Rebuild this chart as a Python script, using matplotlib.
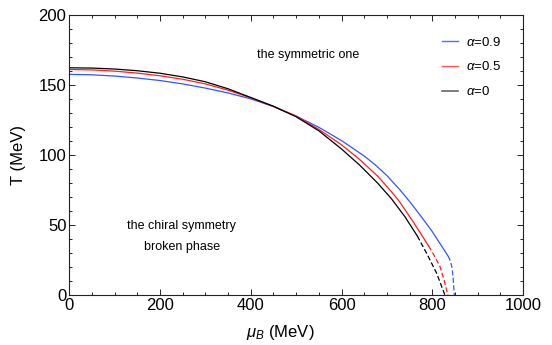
import matplotlib
matplotlib.use('Agg')
import matplotlib.pyplot as plt
from matplotlib.lines import Line2D
from matplotlib.ticker import MultipleLocator

plt.rcParams['font.family'] = ['Liberation Sans', 'DejaVu Sans']
plt.rcParams['mathtext.fontset'] = 'custom'
plt.rcParams['mathtext.rm'] = 'Liberation Sans'
plt.rcParams['mathtext.it'] = 'Liberation Sans:italic'

# ── Data ──────────────────────────────────────────────────────────────────
# alpha = 0.9 (blue)
mu_a09 = [0, 50, 100, 150, 200, 250, 300, 350, 400, 450, 500, 550, 600,
          650, 675, 700, 727, 750, 775, 800, 820, 835]
T_a09  = [157.8, 157.5, 156.6, 155.2, 153.4, 151, 148, 144.5, 140.3, 134.8,
          128, 120, 110.5, 99.5, 93, 85.5, 76, 67, 56.5, 45.5, 35.5, 28]
mu_a09_d = [835, 840, 844, 846, 848.6]
T_a09_d  = [28, 24.5, 19, 12, 0]

# alpha = 0.5 (red)
mu_a05 = [0, 50, 100, 150, 200, 250, 300, 350, 400, 450, 500, 550, 600,
          640, 680, 710, 728, 760, 792]
T_a05  = [161.3, 161, 160.1, 158.7, 156.8, 154.3, 151, 146.5, 141, 135,
          128, 118.5, 107.5, 97, 85, 74, 66.8, 51.5, 35.2]
mu_a05_d = [792, 805, 817, 826, 834.6]
T_a05_d  = [35.2, 28, 20.5, 11, 0]

# alpha = 0 (black)
mu_a0 = [0, 50, 100, 150, 200, 250, 300, 350, 400, 450, 500, 550, 600,
         640, 680, 710, 740, 767]
T_a0  = [162.5, 162.3, 161.6, 160.4, 158.6, 156, 152.5, 147.5, 141.3, 135,
         127.5, 117.5, 104.5, 93, 80, 69, 56, 42.4]
mu_a0_d = [767, 790, 810, 828]
T_a0_d  = [42.4, 28.5, 15.5, 0]

BLUE = '#2f57ff'
RED = '#ff1f1f'
BLACK = '#000000'

# ── Plot ──────────────────────────────────────────────────────────────────
fig = plt.figure(figsize=(5.52, 3.45), dpi=100)
ax = fig.add_axes([0.1255, 0.144, 0.822, 0.8117])

lw = 0.9
dash = (0, (4, 2))
ax.plot(mu_a09, T_a09, color=BLUE, lw=lw)
ax.plot(mu_a09_d, T_a09_d, color=BLUE, lw=lw, ls=dash)
ax.plot(mu_a05, T_a05, color=RED, lw=lw)
ax.plot(mu_a05_d, T_a05_d, color=RED, lw=lw, ls=dash)
ax.plot(mu_a0, T_a0, color=BLACK, lw=lw)
ax.plot(mu_a0_d, T_a0_d, color=BLACK, lw=lw, ls=dash)

ax.set_xlim(0, 1000)
ax.set_ylim(0, 200)
ax.xaxis.set_major_locator(MultipleLocator(200))
ax.xaxis.set_minor_locator(MultipleLocator(50))
ax.yaxis.set_major_locator(MultipleLocator(50))
ax.yaxis.set_minor_locator(MultipleLocator(10))
ax.tick_params(which='both', direction='in', top=True, right=True,
               labelsize=12, width=0.7, color='#222222')
ax.tick_params(which='major', length=4, pad=2)
ax.tick_params(which='minor', length=2)
for s in ax.spines.values():
    s.set_linewidth(0.8)
    s.set_color('#222222')

ax.set_xlabel(r'$\mu_B$ (MeV)', fontsize=12)
ax.set_ylabel('T (MeV)', fontsize=12)
ax.xaxis.set_label_coords(0.465, -0.1)
ax.yaxis.set_label_coords(-0.095, 0.5)

ax.text(527, 171.6, 'the symmetric one', fontsize=9, ha='center', va='center')
ax.text(248, 49.5, 'the chiral symmetry', fontsize=9, ha='center', va='center')
ax.text(248, 34.5, 'broken phase', fontsize=9, ha='center', va='center')

handles = [Line2D([], [], color=BLUE, lw=1.0, alpha=0.85),
           Line2D([], [], color=RED, lw=1.0, alpha=0.75),
           Line2D([], [], color=BLACK, lw=1.2, alpha=0.6)]
labels = [r'$\alpha$=0.9', r'$\alpha$=0.5', r'$\alpha$=0']
ax.legend(handles, labels, loc='upper right', bbox_to_anchor=(0.978, 0.97),
          frameon=False, fontsize=9.5, handlelength=1.2, handletextpad=0.6,
          labelspacing=0.9)

plt.savefig('out.png', dpi=100)
